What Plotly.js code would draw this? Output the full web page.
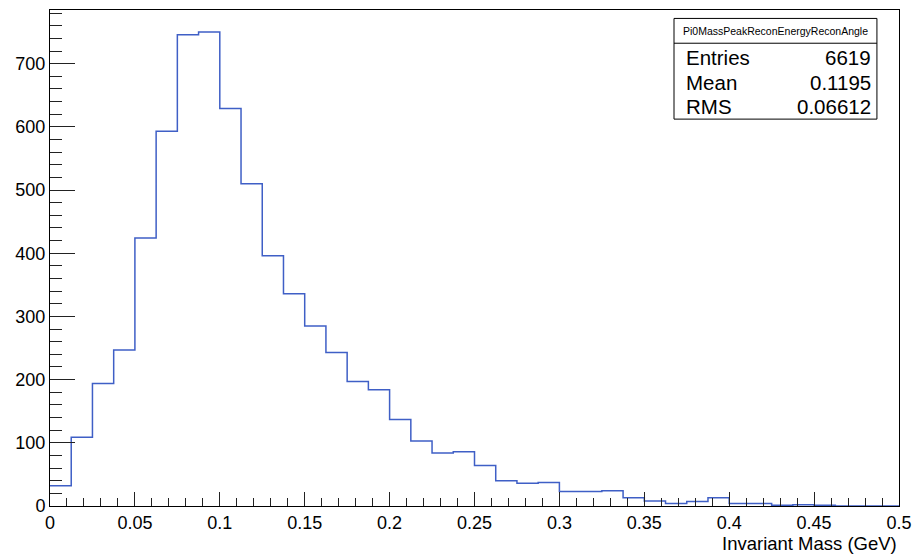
<!DOCTYPE html>
<html>
<head>
<meta charset="utf-8">
<script src="https://cdn.plot.ly/plotly-3.0.1.min.js"></script>
<style>html,body{margin:0;padding:0;background:#fff;}#chart{width:919px;height:555px;}</style>
</head>
<body>
<div id="chart"></div>
<script>
// Histogram definition: 40 bins from 0 to 0.5 GeV
const histName = "Pi0MassPeakReconEnergyReconAngle";
const xMin = 0;
const xMax = 0.5;
const nBins = 40;
const binCounts = [32,109,194,247,424,593,746,750,629,510,396,336,285,243,197,184,137,103,84,86,64,40,36,37,23,23,24,13,8,4,7,13,4,4,1,2,1,0,0,0];
const statsLabels = ["Entries", "Mean", "RMS"];
const statsValues = ["6619", "0.1195", "0.06612"];
const xTitle = "Invariant Mass (GeV)";

const binW = (xMax - xMin) / nBins;
const edges = [];
for (let i = 0; i <= nBins; i++) edges.push(+(xMin + i * binW).toFixed(6));
const yStep = binCounts.concat([binCounts[binCounts.length - 1]]);

const FONT = "Liberation Sans, Arial, Helvetica, sans-serif";

const trace = {
  x: edges, y: yStep, type: 'scatter', mode: 'lines',
  line: {shape: 'hv', color: '#3f5fc6', width: 1.5},
  hoverinfo: 'skip', showlegend: false
};

// stats box geometry (paper coords)
const bx0 = 0.735, bx1 = 0.974, by0 = 0.780, by1 = 0.983, bsep = 0.933;
const rowY = [0.904, 0.853, 0.805];

const annotations = [
  {xref:'paper', yref:'paper', x:(bx0+bx1)/2, y:(by1+bsep)/2, text:histName, showarrow:false,
   xanchor:'center', yanchor:'middle', font:{family:FONT, size:10.5, color:'#000'}},
  {xref:'paper', yref:'paper', x:1, y:-0.076, text:xTitle, showarrow:false,
   xanchor:'right', yanchor:'middle', font:{family:FONT, size:18.5, color:'#000'}}
];
statsLabels.forEach((lab, i) => {
  annotations.push({xref:'paper', yref:'paper', x:0.747, y:rowY[i], text:lab, showarrow:false,
    xanchor:'left', yanchor:'middle', font:{family:FONT, size:20.5, color:'#000'}});
  annotations.push({xref:'paper', yref:'paper', x:0.969, y:rowY[i], text:statsValues[i], showarrow:false,
    xanchor:'right', yanchor:'middle', font:{family:FONT, size:20.5, color:'#000'}});
});

const layout = {
  width: 919, height: 555,
  margin: {l: 50, r: 20, t: 10, b: 49},
  paper_bgcolor: '#fff', plot_bgcolor: '#fff',
  font: {family: FONT, size: 18, color: '#000'},
  xaxis: {
    range: [xMin, xMax], dtick: 0.05, tick0: 0,
    ticks: 'inside', ticklen: 14, tickwidth: 1, tickcolor: '#222',
    minor: {dtick: 0.01, ticks: 'inside', ticklen: 8, tickwidth: 1, tickcolor: '#222', showgrid: false},
    showgrid: false, zeroline: false,
    showline: true, linecolor: '#000', linewidth: 1, mirror: true,
    tickfont: {family: FONT, size: 18, color: '#000'}
  },
  yaxis: {
    range: [0, 785], dtick: 100, tick0: 0,
    ticks: 'inside', ticklen: 25, tickwidth: 1, tickcolor: '#222',
    minor: {dtick: 20, ticks: 'inside', ticklen: 12, tickwidth: 1, tickcolor: '#222', showgrid: false},
    showgrid: false, zeroline: false,
    showline: true, linecolor: '#000', linewidth: 1, mirror: true,
    tickfont: {family: FONT, size: 18, color: '#000'}
  },
  shapes: [
    {type:'rect', xref:'paper', yref:'paper', x0:bx0, x1:bx1, y0:by0, y1:by1, line:{color:'#000', width:1}, fillcolor:'#fff'},
    {type:'line', xref:'paper', yref:'paper', x0:bx0, x1:bx1, y0:bsep, y1:bsep, line:{color:'#000', width:1}}
  ],
  annotations: annotations
};

Plotly.newPlot('chart', [trace], layout, {staticPlot: true, displayModeBar: false});
</script>
</body>
</html>
